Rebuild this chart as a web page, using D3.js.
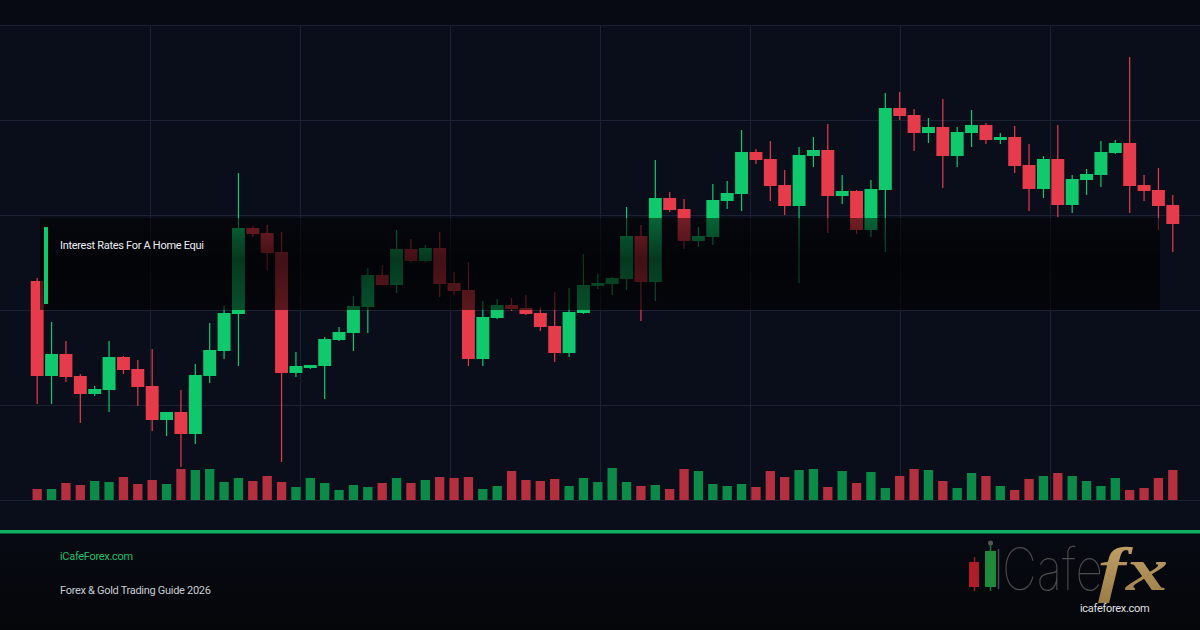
<!DOCTYPE html>
<html><head><meta charset="utf-8">
<script src="https://cdn.jsdelivr.net/npm/d3@7"></script>
<style>html,body{margin:0;padding:0;background:#0a0e1a;}svg{display:block}</style>
</head><body><svg id="c" width="1200" height="630"></svg>
<script>
// ---- data (price units, volume units) ----
const opens  = [219,124,146,124,106,110,143,131,114,80, 88,66,124,149,186,272,267,248,127,132,
                134,160,167,193,225,215,251,239,252,217, 210,141,182,195,192,187,174,147,187,214,
                216,221,264,218,302,291,259,263,299,306, 348,341,315,294,344,350,304,309,270,310,
                392,385,367,373,344,367,375,360,363,335, 311,341,295,320,325,347,357,315,310,295];
const highs  = [222,178,159,126,114,159,144,140,151,88, 110,136,177,194,327,274,275,268,148,135,
                163,173,204,232,235,270,261,255,268,228, 238,199,201,202,205,193,208,212,246,226,
                223,293,275,340,308,301,273,316,319,370, 351,359,330,353,363,376,325,310,320,407,
                408,391,382,401,373,390,377,367,374,356, 344,375,325,331,359,360,443,325,332,305];
const lows   = [96,96,118,77,104,88,126,94,69,64, 33,56,117,141,134,263,230,38,123,131,
                101,159,149,167,215,207,238,238,203,205, 134,134,181,189,185,169,138,143,186,211,
                205,210,179,199,288,251,253,255,291,289, 336,299,285,217,333,267,296,266,263,248,
                380,349,357,312,333,353,356,356,327,289, 302,283,287,305,313,346,287,299,270,248];
const closes = [124,146,123,106,111,143,130,113,80,88, 66,125,150,187,272,266,247,127,134,135,
                161,168,194,225,215,251,239,252,216,209, 141,183,195,191,186,173,147,188,215,217,
                222,264,218,302,290,259,264,300,307,348, 340,314,294,345,350,304,309,270,311,392,
                384,367,373,344,368,375,360,363,334,311, 341,295,321,326,348,357,314,309,294,276];
const volumes = [11,11,17,15,19,18,23,16,20,16, 31,30,31,18,22,19,24,18,13,22,
                 17,10,15,13,17,22,17,20,23,22, 23,11,14,29,20,19,21,14,22,18,
                 32,18,14,15,11,31,29,16,14,16, 13,29,23,30,31,13,29,17,28,12,
                 24,31,30,19,12,27,24,14,10,21, 24,27,24,19,14,22,10,12,22,30];
const categories = d3.range(opens.length).map(i => "Bar " + (i + 1));
const priceGridLevels = [0, 95, 190, 285, 380, 475];
const timeGridDivisions = [1, 2, 3, 4, 5, 6, 7];
const titleText = "Interest Rates For A Home Equi";
const footerSite = "iCafeForex.com";
const footerGuide = "Forex & Gold Trading Guide 2026";
const logoWord = "Cafe";
const logoFx = "fx";
const logoUrl = "icafeforex.com";

// ---- styles ----
const UP = "#10c96c", DOWN = "#e63b4a", VUP = "#0b8a48", VDOWN = "#b5303f";

const svg = d3.select("#c");
const W = 1200, H = 630;
const defs = svg.append("defs");

// backgrounds
svg.append("rect").attr("width", W).attr("height", H).attr("fill", "#0a0e1a");
svg.append("rect").attr("width", W).attr("height", 25).attr("fill", "#070a13");

const x = d3.scaleBand().domain(categories).range([30, 1180]).paddingInner(0.1).paddingOuter(0.05);
const y = d3.scaleLinear().domain([0, 475]).range([500, 25]);
const v = d3.scaleLinear().domain([0, 100]).range([500, 400]);
const gx = d3.scaleLinear().domain([0, 8]).range([0, 1200]);

// grid
const grid = svg.append("g").attr("stroke", "#1c2234").attr("stroke-width", 1);
grid.selectAll("line.h").data(priceGridLevels).join("line")
  .attr("x1", 0).attr("x2", W)
  .attr("y1", d => Math.round(y(d)) + 0.5).attr("y2", d => Math.round(y(d)) + 0.5);
grid.selectAll("line.v").data(timeGridDivisions).join("line")
  .attr("x1", d => Math.round(gx(d)) + 0.5).attr("x2", d => Math.round(gx(d)) + 0.5)
  .attr("y1", y(475)).attr("y2", y(0));

// volume
const vw = x.bandwidth() * 0.72;
svg.append("g").selectAll("rect").data(volumes).join("rect")
  .attr("x", (d, i) => x(categories[i]) + (x.bandwidth() - vw) / 2)
  .attr("width", vw)
  .attr("y", d => v(d))
  .attr("height", d => v(0) - v(d))
  .attr("fill", (d, i) => closes[i] >= opens[i] ? VUP : VDOWN);

// candles
const cg = svg.append("g");
const idx = d3.range(opens.length);
cg.selectAll("line").data(idx).join("line")
  .attr("x1", i => x(categories[i]) + x.bandwidth() / 2)
  .attr("x2", i => x(categories[i]) + x.bandwidth() / 2)
  .attr("y1", i => y(highs[i])).attr("y2", i => y(lows[i]))
  .attr("stroke", i => closes[i] >= opens[i] ? UP : DOWN).attr("stroke-width", 1.2);
cg.selectAll("rect").data(idx).join("rect")
  .attr("x", i => x(categories[i]))
  .attr("width", x.bandwidth())
  .attr("y", i => y(Math.max(opens[i], closes[i])))
  .attr("height", i => Math.max(1.5, Math.abs(y(opens[i]) - y(closes[i]))))
  .attr("fill", i => closes[i] >= opens[i] ? UP : DOWN);

// overlay box
const og = defs.append("linearGradient").attr("id", "ov").attr("x1", 0).attr("y1", 0).attr("x2", 0).attr("y2", 1);
og.append("stop").attr("offset", 0).attr("stop-color", "#000").attr("stop-opacity", 0.5);
og.append("stop").attr("offset", 0.45).attr("stop-color", "#000").attr("stop-opacity", 0.72);
og.append("stop").attr("offset", 1).attr("stop-color", "#000").attr("stop-opacity", 0.6);
svg.append("rect").attr("x", 40).attr("y", 218).attr("width", 1120).attr("height", 92).attr("fill", "url(#ov)");
svg.append("rect").attr("x", 44).attr("y", 227).attr("width", 4).attr("height", 77).attr("fill", UP);
svg.append("text").attr("x", 60).attr("y", 249).text(titleText)
  .attr("font-family", "Roboto, 'Noto Sans', sans-serif").attr("font-size", 11)
  .attr("letter-spacing", -0.3).attr("fill", "#eceef2");

// footer
const fg = defs.append("linearGradient").attr("id", "ft").attr("x1", 0).attr("y1", 0).attr("x2", 0).attr("y2", 1);
fg.append("stop").attr("offset", 0).attr("stop-color", "#070a12");
fg.append("stop").attr("offset", 1).attr("stop-color", "#04060a");
svg.append("rect").attr("x", 0).attr("y", 533).attr("width", W).attr("height", H - 533).attr("fill", "url(#ft)");
svg.append("rect").attr("x", 0).attr("y", 530).attr("width", W).attr("height", 3.5).attr("fill", "#0fae62");
svg.append("text").attr("x", 60).attr("y", 560).text(footerSite)
  .attr("font-family", "Roboto, sans-serif").attr("font-size", 11).attr("letter-spacing", -0.3).attr("fill", "#1fbf6c");
svg.append("text").attr("x", 60).attr("y", 594).text(footerGuide)
  .attr("font-family", "Roboto, sans-serif").attr("font-size", 11).attr("letter-spacing", -0.3).attr("fill", "#c9ccd2");

// logo
const lg = svg.append("g");
lg.append("line").attr("x1", 974.5).attr("x2", 974.5).attr("y1", 557).attr("y2", 591).attr("stroke", "#9a1a24").attr("stroke-width", 1.5);
lg.append("rect").attr("x", 969).attr("y", 562).attr("width", 10).attr("height", 25).attr("fill", "#b01c28");
lg.append("line").attr("x1", 990.5).attr("x2", 990.5).attr("y1", 543).attr("y2", 591).attr("stroke", "#1a7a34").attr("stroke-width", 1.5);
lg.append("circle").attr("cx", 990.5).attr("cy", 543).attr("r", 2.5).attr("fill", "#555");
lg.append("rect").attr("x", 985).attr("y", 551).attr("width", 11).attr("height", 36).attr("fill", "#1f8a3b");
lg.append("line").attr("x1", 998.5).attr("x2", 998.5).attr("y1", 549).attr("y2", 589).attr("stroke", "#4a4a4a").attr("stroke-width", 1.5);
lg.append("text").attr("x", 1002).attr("y", 590).text(logoWord)
  .attr("font-family", "Inter, Lato, sans-serif").attr("font-weight", 100).attr("font-size", 58)
  .attr("textLength", 101).attr("lengthAdjust", "spacingAndGlyphs").attr("fill", "#4d4d4d");
const gg = defs.append("linearGradient").attr("id", "gold").attr("x1", 0).attr("y1", 0).attr("x2", 0).attr("y2", 1);
gg.append("stop").attr("offset", 0).attr("stop-color", "#c6a56a");
gg.append("stop").attr("offset", 1).attr("stop-color", "#9c7d48");
lg.append("text").attr("x", 1098).attr("y", 590).text(logoFx)
  .attr("font-family", "'Liberation Serif', 'DejaVu Serif', serif").attr("font-style", "italic").attr("font-weight", "bold")
  .attr("font-size", 62).attr("textLength", 70).attr("lengthAdjust", "spacingAndGlyphs").attr("fill", "url(#gold)");
lg.append("text").attr("x", 1080).attr("y", 612).text(logoUrl)
  .attr("font-family", "Roboto, sans-serif").attr("font-size", 11).attr("letter-spacing", -0.3).attr("fill", "#e0e0e0");
</script>
</body></html>
